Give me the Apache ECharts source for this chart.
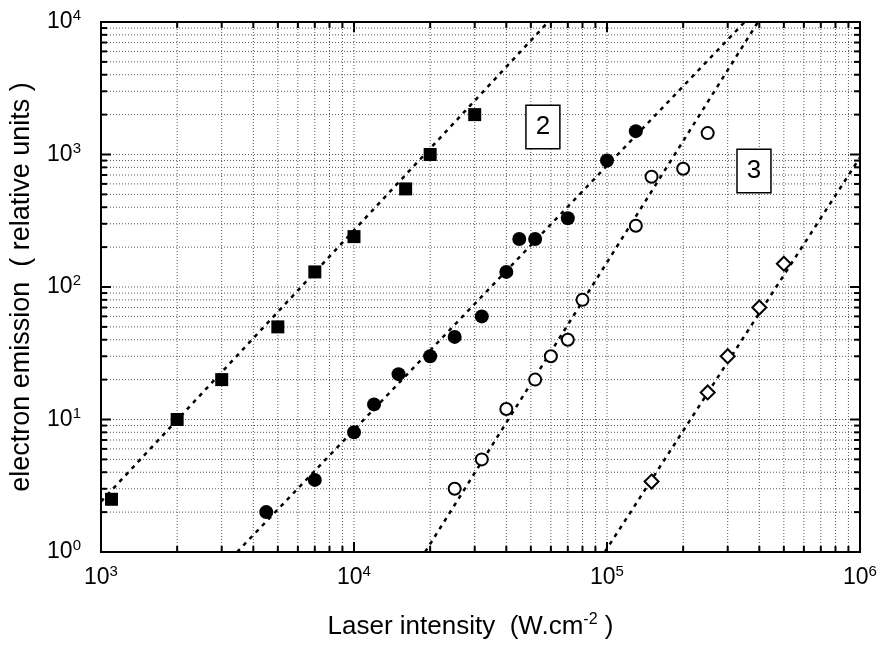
<!DOCTYPE html>
<html>
<head>
<meta charset="utf-8">
<script src="https://cdn.jsdelivr.net/npm/echarts@6/dist/echarts.min.js"></script>
<style>html,body{margin:0;padding:0;background:#fff}#c{width:880px;height:645px}</style>
</head>
<body>
<div id="c"></div>
<script>
// ---- data ----
const squaresX = [1.1e3, 2e3, 3e3, 5e3, 7e3, 1e4, 1.6e4, 2e4, 3e4];
const squaresY = [2.5, 10, 20, 50, 130, 240, 550, 1000, 2000];
const filledX = [4.5e3, 7e3, 1e4, 1.2e4, 1.5e4, 2e4, 2.5e4, 3.2e4, 4e4, 4.5e4, 5.2e4, 7e4, 1e5, 1.3e5];
const filledY = [2, 3.5, 8, 13, 22, 30, 42, 60, 130, 230, 230, 330, 900, 1500];
const openX = [2.5e4, 3.2e4, 4e4, 5.2e4, 6e4, 7e4, 8e4, 1.3e5, 1.5e5, 2e5, 2.5e5];
const openY = [3, 5, 12, 20, 30, 40, 80, 290, 680, 780, 1450];
const diamondX = [1.5e5, 2.5e5, 3e5, 4e5, 5e5];
const diamondY = [3.4, 16, 30, 70, 150];
// fitted dotted lines (end points)
const fit1 = [[1e3, 2.4], [5.85e4, 1e4]];
const fit2 = [[3.45e3, 1], [3.5e5, 1e4]];
const fit3 = [[1.91e4, 1], [3.95e5, 1e4]];
const fit4 = [[9.8e4, 1], [1e6, 950]];
// box labels
const boxLabels = [{ text: '2', x: 5.58e4, y: 1614 }, { text: '3', x: 3.81e5, y: 750 }];
// axes
const xDecades = [1e3, 1e4, 1e5, 1e6];
const yDecades = [1, 10, 100, 1000, 10000];
const xName = 'Laser intensity  (W.cm{sup|-2} )';
const yName = 'electron emission  ( relative units )';

const FONT = '"Liberation Sans", Arial, Helvetica, sans-serif';
const zip = (xs, ys) => xs.map((x, i) => [x, ys[i]]);

function ticksFor(decades) {
  const out = [];
  for (let i = 0; i < decades.length; i++) {
    out.push([decades[i], 1]);
    if (i < decades.length - 1) {
      for (let m = 2; m <= 9; m++) out.push([decades[i] * m, 0]);
    }
  }
  return out;
}
const xTicks = ticksFor(xDecades);
const yTicks = ticksFor(yDecades);
const xMin = xDecades[0], xMax = xDecades[xDecades.length - 1];
const yMin = yDecades[0], yMax = yDecades[yDecades.length - 1];

const GRID_STYLE = { stroke: '#555', lineWidth: 1, lineDash: [1, 2] };
const TICK_STYLE = { stroke: '#000', lineWidth: 2 };

const chart = echarts.init(document.getElementById('c'));
const supLabel = v => '10{sup|' + Math.round(Math.log10(v)) + '}';

chart.setOption({
  backgroundColor: '#fff',
  animation: false,
  grid: { left: 101, right: 20, top: 22, bottom: 93, show: true, borderColor: '#000', borderWidth: 2, backgroundColor: 'transparent' },
  xAxis: {
    type: 'log', logBase: 10, min: xMin, max: xMax,
    axisLine: { show: false }, axisTick: { show: false }, splitLine: { show: false },
    axisLabel: {
      margin: 12, formatter: supLabel, color: '#000', fontFamily: FONT, fontSize: 23,
      rich: { sup: { fontSize: 15, fontFamily: FONT, color: '#000', padding: [0, 0, 12, 0] } }
    },
    name: xName, nameLocation: 'middle', nameGap: 60,
    nameTextStyle: { color: '#000', fontFamily: FONT, fontSize: 26, padding: [0, 20, 0, 0],
      rich: { sup: { fontSize: 16, fontFamily: FONT, color: '#000', padding: [0, 0, 14, 0] } } }
  },
  yAxis: {
    type: 'log', logBase: 10, min: yMin, max: yMax,
    axisLine: { show: false }, axisTick: { show: false }, splitLine: { show: false },
    axisLabel: {
      margin: 20, formatter: supLabel, color: '#000', fontFamily: FONT, fontSize: 23,
      rich: { sup: { fontSize: 15, fontFamily: FONT, color: '#000', padding: [0, 0, 12, 0] } }
    },
    name: yName, nameLocation: 'middle', nameGap: 66,
    nameTextStyle: { color: '#000', fontFamily: FONT, fontSize: 27 }
  },
  series: [
    {
      type: 'custom', name: 'xgrid', z: 1, silent: true,
      data: xTicks, encode: { x: 0 },
      renderItem(params, api) {
        const v = api.value(0), major = api.value(1);
        const b = api.coord([v, yMin]), t = api.coord([v, yMax]);
        const len = major ? 10 : 6;
        const ch = [];
        if (v > xMin && v < xMax) ch.push({ type: 'line', shape: { x1: b[0], y1: b[1], x2: t[0], y2: t[1] }, style: GRID_STYLE });
        ch.push({ type: 'line', shape: { x1: b[0], y1: b[1], x2: b[0], y2: b[1] - len }, style: TICK_STYLE });
        ch.push({ type: 'line', shape: { x1: t[0], y1: t[1], x2: t[0], y2: t[1] + len }, style: TICK_STYLE });
        return { type: 'group', children: ch };
      }
    },
    {
      type: 'custom', name: 'ygrid', z: 1, silent: true,
      data: yTicks.map(d => [xMin, d[0], d[1]]), encode: { x: 0, y: 1 },
      renderItem(params, api) {
        const v = api.value(1), major = api.value(2);
        const l = api.coord([xMin, v]), r = api.coord([xMax, v]);
        const len = major ? 10 : 6;
        const ch = [];
        if (v > yMin && v < yMax) ch.push({ type: 'line', shape: { x1: l[0], y1: l[1], x2: r[0], y2: r[1] }, style: GRID_STYLE });
        ch.push({ type: 'line', shape: { x1: l[0], y1: l[1], x2: l[0] + len, y2: l[1] }, style: TICK_STYLE });
        ch.push({ type: 'line', shape: { x1: r[0], y1: r[1], x2: r[0] - len, y2: r[1] }, style: TICK_STYLE });
        return { type: 'group', children: ch };
      }
    },
    ...[fit1, fit2, fit3, fit4].map(f => ({
      type: 'line', data: f, showSymbol: false, symbol: 'none', z: 3, silent: true,
      lineStyle: { color: '#000', width: 2.5, type: [4, 5] }
    })),
    { type: 'scatter', data: zip(squaresX, squaresY), symbol: 'rect', symbolSize: 13, z: 5,
      itemStyle: { color: '#000', opacity: 1 } },
    { type: 'scatter', data: zip(filledX, filledY), symbol: 'circle', symbolSize: 14, z: 5,
      itemStyle: { color: '#000', opacity: 1 } },
    { type: 'scatter', data: zip(openX, openY), symbol: 'circle', symbolSize: 12, z: 5,
      itemStyle: { color: '#fff', borderColor: '#000', borderWidth: 2, opacity: 1 } },
    { type: 'scatter', data: zip(diamondX, diamondY), symbol: 'diamond', symbolSize: [14, 14], z: 5,
      itemStyle: { color: '#fff', borderColor: '#000', borderWidth: 2, opacity: 1 } },
    { type: 'scatter', data: boxLabels.map(b => ({ value: [b.x, b.y], name: b.text })), symbolSize: 0, z: 6,
      itemStyle: { opacity: 1 },
      label: { show: true, position: 'inside', formatter: p => p.name, color: '#000', fontFamily: FONT, opacity: 1,
        fontSize: 26, backgroundColor: '#fff', borderColor: '#000', borderWidth: 1.5, padding: [8, 9] } }
  ]
});
</script>
</body>
</html>
